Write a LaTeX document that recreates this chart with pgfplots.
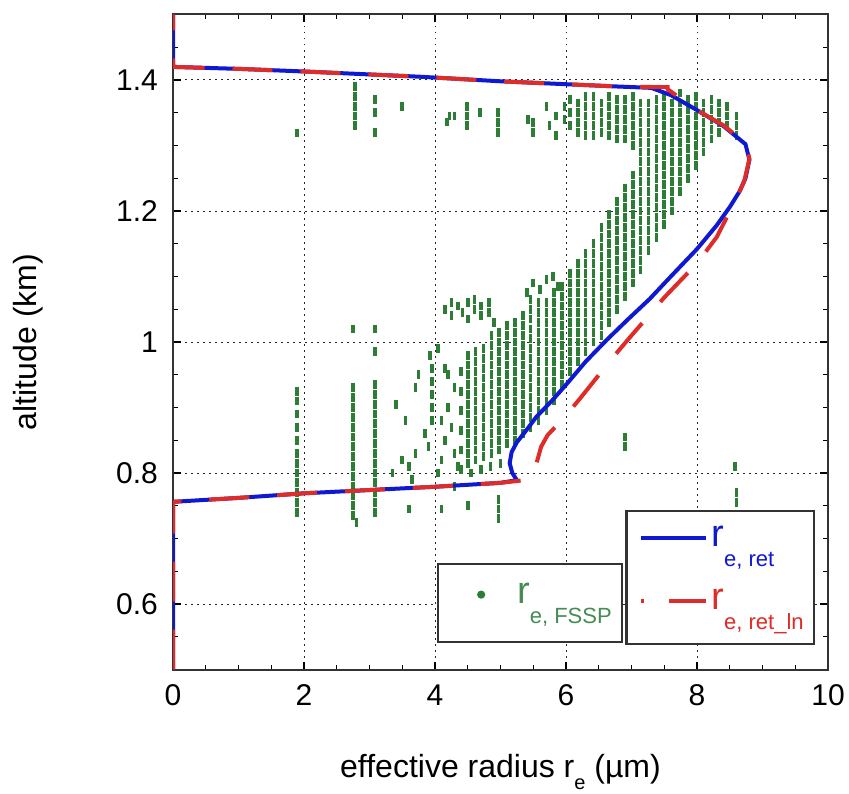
\documentclass[border=0pt]{standalone}
\usepackage{pgfplots}
\pgfplotsset{compat=1.18}
\usepackage{fontspec}
\setmainfont{Liberation Sans}
\definecolor{retblue}{RGB}{15,25,210}
\definecolor{retred}{RGB}{222,45,40}
\definecolor{fssp}{RGB}{45,125,55}
\definecolor{fssptext}{RGB}{70,140,85}
\newcommand{\rlab}[1]{\raisebox{16pt}{{\fontsize{19}{19}\selectfont r}\raisebox{-10pt}{\fontsize{11}{11}\selectfont #1}\rule[-16pt]{0pt}{33.5pt}\hspace{4.5pt}}}

\begin{document}
\begin{tikzpicture}
\pgfplotsset{base/.style={width=327.5pt,height=327.5pt,scale only axis,
  xmin=0,xmax=10,ymin=0.5,ymax=1.5}}
\begin{axis}[base, name=main,
  xtick={0,2,...,10}, ytick={0.6,0.8,1,1.2,1.4},
  minor xtick={0,0.5,...,10}, minor ytick={0.5,0.55,...,1.5},
  tick align=inside, xtick pos=both, ytick pos=both,
  major tick length=4pt, minor tick length=2.5pt,
  every tick/.style={black, line width=0.6pt},
  xmajorgrids, ymajorgrids,
  major grid style={black!85, line width=0.5pt, dash pattern=on 0.8pt off 2.2pt},
  axis line style={black!80, line width=1pt},
  tick label style={font=\fontsize{15}{15}\selectfont},
  /pgf/number format/assume math mode=true,
  xticklabel style={yshift=-4pt},
  yticklabel style={xshift=-4pt},
  xlabel={effective radius r\raisebox{-6pt}{\fontsize{10}{10}\selectfont e} (µm)},
  ylabel={altitude (km)},
  label style={font=\fontsize{16}{16}\selectfont},
  xlabel style={at={(axis description cs:0.5,0)}, anchor=base, yshift=-53.75pt},
  ylabel style={at={(axis description cs:-0.2214,0.5)}, anchor=center},
  legend cell align=left,
  legend style={at={(axis description cs:0.403,0.040)}, anchor=south west,
    draw=black!80, line width=1.2pt, fill=white, inner xsep=0.5pt, inner ysep=2pt,
    column sep=0pt, nodes={inner sep=0pt}},
]
\addplot[only marks, mark=|, mark size=2.2pt, color=fssp, mark options={line width=1.8pt},
  legend image code/.code={\path[draw=none,fill=none] (0pt,-7pt) rectangle (39pt,7pt);
    \fill[fssp] (21pt,4.25pt) circle (1.4pt);}]
coordinates {
(4.40,0.805)(4.40,0.835)(4.40,0.865)(4.40,0.895)(4.40,0.925)(4.40,0.955)
(4.50,0.815)(4.50,0.830)(4.50,0.845)(4.50,0.860)(4.50,0.875)(4.50,0.890)(4.50,0.905)(4.50,0.920)(4.50,0.935)(4.50,0.950)(4.50,0.965)(4.50,0.980)
(4.62,0.820)(4.62,0.835)(4.62,0.850)(4.62,0.865)(4.62,0.880)(4.62,0.895)(4.62,0.910)(4.62,0.925)(4.62,0.940)(4.62,0.955)(4.62,0.970)(4.62,0.985)
(4.74,0.825)(4.74,0.840)(4.74,0.855)(4.74,0.870)(4.74,0.885)(4.74,0.900)(4.74,0.915)(4.74,0.930)(4.74,0.945)(4.74,0.960)(4.74,0.975)(4.74,0.990)
(4.86,0.830)(4.86,0.845)(4.86,0.860)(4.86,0.875)(4.86,0.890)(4.86,0.905)(4.86,0.920)(4.86,0.935)(4.86,0.950)(4.86,0.965)(4.86,0.980)(4.86,0.995)(4.86,1.010)
(4.98,0.835)(4.98,0.850)(4.98,0.865)(4.98,0.880)(4.98,0.895)(4.98,0.910)(4.98,0.925)(4.98,0.940)(4.98,0.955)(4.98,0.970)(4.98,0.985)(4.98,1.000)(4.98,1.015)
(5.10,0.845)(5.10,0.860)(5.10,0.875)(5.10,0.890)(5.10,0.905)(5.10,0.920)(5.10,0.935)(5.10,0.950)(5.10,0.965)(5.10,0.980)(5.10,0.995)(5.10,1.010)(5.10,1.025)
(5.22,0.850)(5.22,0.865)(5.22,0.880)(5.22,0.895)(5.22,0.910)(5.22,0.925)(5.22,0.940)(5.22,0.955)(5.22,0.970)(5.22,0.985)(5.22,1.000)(5.22,1.015)(5.22,1.030)
(5.34,0.860)(5.34,0.875)(5.34,0.890)(5.34,0.905)(5.34,0.920)(5.34,0.935)(5.34,0.950)(5.34,0.965)(5.34,0.980)(5.34,0.995)(5.34,1.010)(5.34,1.025)(5.34,1.040)
(5.46,0.870)(5.46,0.885)(5.46,0.900)(5.46,0.915)(5.46,0.930)(5.46,0.945)(5.46,0.960)(5.46,0.975)(5.46,0.990)(5.46,1.005)(5.46,1.020)(5.46,1.035)(5.46,1.050)
(5.58,0.880)(5.58,0.895)(5.58,0.910)(5.58,0.925)(5.58,0.940)(5.58,0.955)(5.58,0.970)(5.58,0.985)(5.58,1.000)(5.58,1.015)(5.58,1.030)(5.58,1.045)(5.58,1.060)
(5.70,0.895)(5.70,0.910)(5.70,0.925)(5.70,0.940)(5.70,0.955)(5.70,0.970)(5.70,0.985)(5.70,1.000)(5.70,1.015)(5.70,1.030)(5.70,1.045)(5.70,1.060)
(5.82,0.910)(5.82,0.925)(5.82,0.940)(5.82,0.955)(5.82,0.970)(5.82,0.985)(5.82,1.000)(5.82,1.015)(5.82,1.030)(5.82,1.045)(5.82,1.060)(5.82,1.075)
(5.94,0.935)(5.94,0.950)(5.94,0.965)(5.94,0.980)(5.94,0.995)(5.94,1.010)(5.94,1.025)(5.94,1.040)(5.94,1.055)(5.94,1.070)(5.94,1.085)
(6.06,0.955)(6.06,0.970)(6.06,0.985)(6.06,1.000)(6.06,1.015)(6.06,1.030)(6.06,1.045)(6.06,1.060)(6.06,1.075)(6.06,1.090)(6.06,1.105)
(6.18,0.970)(6.18,0.985)(6.18,1.000)(6.18,1.015)(6.18,1.030)(6.18,1.045)(6.18,1.060)(6.18,1.075)(6.18,1.090)(6.18,1.105)(6.18,1.120)
(6.30,0.985)(6.30,1.000)(6.30,1.015)(6.30,1.030)(6.30,1.045)(6.30,1.060)(6.30,1.075)(6.30,1.090)(6.30,1.105)(6.30,1.120)(6.30,1.135)
(6.42,1.000)(6.42,1.015)(6.42,1.030)(6.42,1.045)(6.42,1.060)(6.42,1.075)(6.42,1.090)(6.42,1.105)(6.42,1.120)(6.42,1.135)(6.42,1.150)
(6.54,1.010)(6.54,1.025)(6.54,1.040)(6.54,1.055)(6.54,1.070)(6.54,1.085)(6.54,1.100)(6.54,1.115)(6.54,1.130)(6.54,1.145)(6.54,1.160)(6.54,1.175)
(6.66,1.030)(6.66,1.045)(6.66,1.060)(6.66,1.075)(6.66,1.090)(6.66,1.105)(6.66,1.120)(6.66,1.135)(6.66,1.150)(6.66,1.165)(6.66,1.180)(6.66,1.195)
(6.78,1.050)(6.78,1.065)(6.78,1.080)(6.78,1.095)(6.78,1.110)(6.78,1.125)(6.78,1.140)(6.78,1.155)(6.78,1.170)(6.78,1.185)(6.78,1.200)(6.78,1.215)
(6.90,1.070)(6.90,1.085)(6.90,1.100)(6.90,1.115)(6.90,1.130)(6.90,1.145)(6.90,1.160)(6.90,1.175)(6.90,1.190)(6.90,1.205)(6.90,1.220)(6.90,1.235)
(7.02,1.090)(7.02,1.105)(7.02,1.120)(7.02,1.135)(7.02,1.150)(7.02,1.165)(7.02,1.180)(7.02,1.195)(7.02,1.210)(7.02,1.225)(7.02,1.240)(7.02,1.255)
(7.14,1.110)(7.14,1.125)(7.14,1.140)(7.14,1.155)(7.14,1.170)(7.14,1.185)(7.14,1.200)(7.14,1.215)(7.14,1.230)(7.14,1.245)(7.14,1.260)(7.14,1.275)
(7.26,1.140)(7.26,1.155)(7.26,1.170)(7.26,1.185)(7.26,1.200)(7.26,1.215)(7.26,1.230)(7.26,1.245)(7.26,1.260)(7.26,1.275)(7.26,1.290)(7.26,1.305)(7.26,1.320)(7.26,1.335)(7.26,1.350)(7.26,1.365)
(7.38,1.160)(7.38,1.175)(7.38,1.190)(7.38,1.205)(7.38,1.220)(7.38,1.235)(7.38,1.250)(7.38,1.265)(7.38,1.280)(7.38,1.295)(7.38,1.310)(7.38,1.325)(7.38,1.340)(7.38,1.355)(7.38,1.370)
(7.50,1.180)(7.50,1.195)(7.50,1.210)(7.50,1.225)(7.50,1.240)(7.50,1.255)(7.50,1.270)(7.50,1.285)(7.50,1.300)(7.50,1.315)(7.50,1.330)(7.50,1.345)(7.50,1.360)(7.50,1.375)
(7.62,1.200)(7.62,1.215)(7.62,1.230)(7.62,1.245)(7.62,1.260)(7.62,1.275)(7.62,1.290)(7.62,1.305)(7.62,1.320)(7.62,1.335)(7.62,1.350)(7.62,1.365)
(7.74,1.230)(7.74,1.245)(7.74,1.260)(7.74,1.275)(7.74,1.290)(7.74,1.305)(7.74,1.320)(7.74,1.335)(7.74,1.350)(7.74,1.365)(7.74,1.380)
(7.86,1.250)(7.86,1.265)(7.86,1.280)(7.86,1.295)(7.86,1.310)(7.86,1.325)(7.86,1.340)(7.86,1.355)(7.86,1.370)
(7.98,1.270)(7.98,1.285)(7.98,1.300)(7.98,1.315)(7.98,1.330)(7.98,1.345)(7.98,1.360)(7.98,1.375)
(8.10,1.290)(8.10,1.305)(8.10,1.320)(8.10,1.335)(8.10,1.350)(8.10,1.365)
(8.22,1.310)(8.22,1.325)(8.22,1.340)(8.22,1.355)(8.22,1.370)
(8.34,1.320)(8.34,1.335)(8.34,1.350)(8.34,1.365)
(8.46,1.330)(8.46,1.345)(8.46,1.360)
(8.60,1.315)(8.60,1.330)(8.60,1.345)
(6.06,1.330)(6.06,1.350)(6.06,1.370)
(6.18,1.320)(6.18,1.335)(6.18,1.350)(6.18,1.365)
(6.30,1.315)(6.30,1.330)(6.30,1.345)(6.30,1.360)(6.30,1.375)
(6.42,1.315)(6.42,1.330)(6.42,1.345)(6.42,1.360)(6.42,1.375)
(6.54,1.320)(6.54,1.335)(6.54,1.350)(6.54,1.365)
(6.66,1.315)(6.66,1.330)(6.66,1.345)(6.66,1.360)(6.66,1.375)
(6.78,1.310)(6.78,1.325)(6.78,1.340)(6.78,1.355)(6.78,1.370)
(6.90,1.310)(6.90,1.325)(6.90,1.340)(6.90,1.355)(6.90,1.370)
(7.02,1.300)(7.02,1.315)(7.02,1.330)(7.02,1.345)(7.02,1.360)(7.02,1.375)
(7.14,1.290)(7.14,1.305)(7.14,1.320)(7.14,1.335)(7.14,1.350)(7.14,1.365)
(1.89,0.740)(1.89,0.755)(1.89,0.770)(1.89,0.785)(1.89,0.800)(1.89,0.815)(1.89,0.830)(1.89,0.850)(1.89,0.870)(1.89,0.890)(1.89,0.910)(1.89,0.925)
(2.75,0.735)(2.75,0.750)(2.75,0.765)(2.75,0.780)(2.75,0.795)(2.75,0.810)(2.75,0.825)(2.75,0.840)(2.75,0.855)(2.75,0.870)(2.75,0.885)(2.75,0.900)(2.75,0.915)(2.75,0.930)(2.75,1.020)
(3.08,0.740)(3.08,0.755)(3.08,0.770)(3.08,0.785)(3.08,0.800)(3.08,0.815)(3.08,0.830)(3.08,0.845)(3.08,0.860)(3.08,0.875)(3.08,0.890)(3.08,0.905)(3.08,0.920)(3.08,0.935)(3.08,0.985)(3.08,1.020)
(1.89,1.319)(2.78,1.390)(2.78,1.375)(2.78,1.360)(2.78,1.345)(2.78,1.330)(3.08,1.370)(3.08,1.350)(3.08,1.320)(3.50,1.359)(4.18,1.336)
(4.22,1.345)(4.30,1.345)(4.49,1.360)(4.49,1.345)(4.49,1.330)(4.69,1.350)(4.96,1.350)(4.96,1.335)(4.96,1.320)(5.42,1.340)(5.50,1.320)(5.50,1.335)(5.70,1.360)(5.75,1.330)(5.85,1.345)(5.85,1.315)(5.98,1.360)(5.98,1.340)
(4.15,1.050)(4.25,1.060)(4.25,1.040)(4.35,1.055)(4.42,1.045)(4.50,1.060)(4.50,1.035)(4.60,1.050)(4.60,1.065)(4.70,1.040)(4.70,1.055)(4.82,1.060)(4.82,1.045)(4.90,1.030)
(5.40,1.075)(5.50,1.090)(5.60,1.080)(5.70,1.095)(5.80,1.100)(5.88,1.085)(5.46,1.065)
(3.35,0.800)(3.50,0.820)(3.60,0.810)(3.65,0.790)(3.70,0.830)(3.55,0.880)(3.40,0.905)(3.70,0.930)(3.75,0.950)(3.85,0.860)(3.90,0.840)(3.95,0.880)(3.95,0.900)(3.95,0.920)(3.95,0.940)(3.95,0.960)(3.92,0.980)(3.60,0.745)
(4.05,0.800)(4.10,0.820)(4.15,0.850)(4.10,0.880)(4.20,0.900)(4.25,0.870)(4.30,0.830)(4.30,0.930)(4.20,0.950)(4.35,0.810)(4.15,0.960)(4.05,0.990)(4.30,0.780)
(4.10,0.745)(4.50,0.750)(4.97,0.730)(4.97,0.745)(4.97,0.760)(2.80,0.725)
(4.55,0.800)(4.70,0.805)(4.85,0.810)(5.00,0.815)(5.15,0.820)
(6.90,0.855)(6.90,0.840)(8.58,0.810)(8.60,0.770)(8.60,0.755)
};
\addlegendentry{\textcolor{fssptext}{\rlab{e, FSSP}}}
\end{axis}

\begin{axis}[base, at={(main.south west)}, anchor=south west, hide axis,
  legend cell align=left,
  legend style={at={(axis description cs:0.980,0.037)}, anchor=south east,
    draw=black!80, line width=1.2pt, fill=white, inner xsep=0.5pt, inner ysep=0pt,
    column sep=0pt, row sep=-3.5pt, nodes={inner sep=0pt}},
]
\addplot[retblue, line width=2pt,
  legend image code/.code={\path[draw=none,fill=none] (0pt,-7pt) rectangle (42pt,7pt);
    \draw[retblue, line width=2pt, solid] (6.5pt,4.25pt) -- (39pt,4.25pt);}]
coordinates {
(0,0.50)(0,0.756)(1,0.762)(2,0.769)(3,0.774)(4,0.779)(5,0.785)(5.25,0.789)
(5.18,0.800)(5.14,0.815)(5.17,0.832)(5.25,0.847)(5.40,0.866)(5.55,0.886)(5.80,0.912)
(6.02,0.937)(6.30,0.970)(6.62,1.003)(6.95,1.035)(7.28,1.066)(7.60,1.100)(8.00,1.142)
(8.30,1.178)(8.50,1.206)(8.65,1.230)(8.74,1.250)(8.80,1.278)(8.74,1.302)(8.40,1.330)
(8.00,1.354)(7.60,1.377)(7.30,1.388)(6.80,1.390)(5.00,1.398)(3.77,1.405)(2,1.413)
(1,1.417)(0,1.420)(0,1.50)
};
\addlegendentry{\textcolor{retblue}{\rlab{e, ret}}}
\addplot[retred, line width=2pt, dash pattern=on 20pt off 14pt,
  legend image code/.code={\path[draw=none,fill=none] (0pt,-7pt) rectangle (42pt,7pt);
    \draw[retred, line width=2pt, solid] (6.5pt,4.25pt) -- (8pt,4.25pt);
    \draw[retred, line width=2pt, solid] (20.5pt,4.25pt) -- (39pt,4.25pt);}]
coordinates {
(0,0.50)(0,0.756)(1,0.762)(2,0.769)(3,0.774)(4,0.779)(5,0.785)(5.45,0.790)
(5.50,0.800)(5.55,0.815)(5.62,0.840)(5.72,0.858)(5.95,0.882)(6.20,0.912)(6.44,0.942)
(6.72,0.977)(7.00,1.010)(7.20,1.033)(7.50,1.068)(8.00,1.120)(8.30,1.160)(8.55,1.209)
(8.72,1.245)(8.80,1.280)(8.74,1.304)(8.40,1.331)(8.00,1.354)(7.55,1.386)(7.55,1.389)
(6.80,1.390)(5.00,1.398)(3.77,1.405)(2,1.413)(1,1.417)(0,1.420)(0,1.50)
};
\addlegendentry{\textcolor{retred}{\rlab{e, ret\_ln}}}
\end{axis}
\pgfresetboundingbox
\path (main.south west) ++(-86.5pt,-61.75pt) rectangle ++(424.5pt,396.5pt);
\end{tikzpicture}
\end{document}
